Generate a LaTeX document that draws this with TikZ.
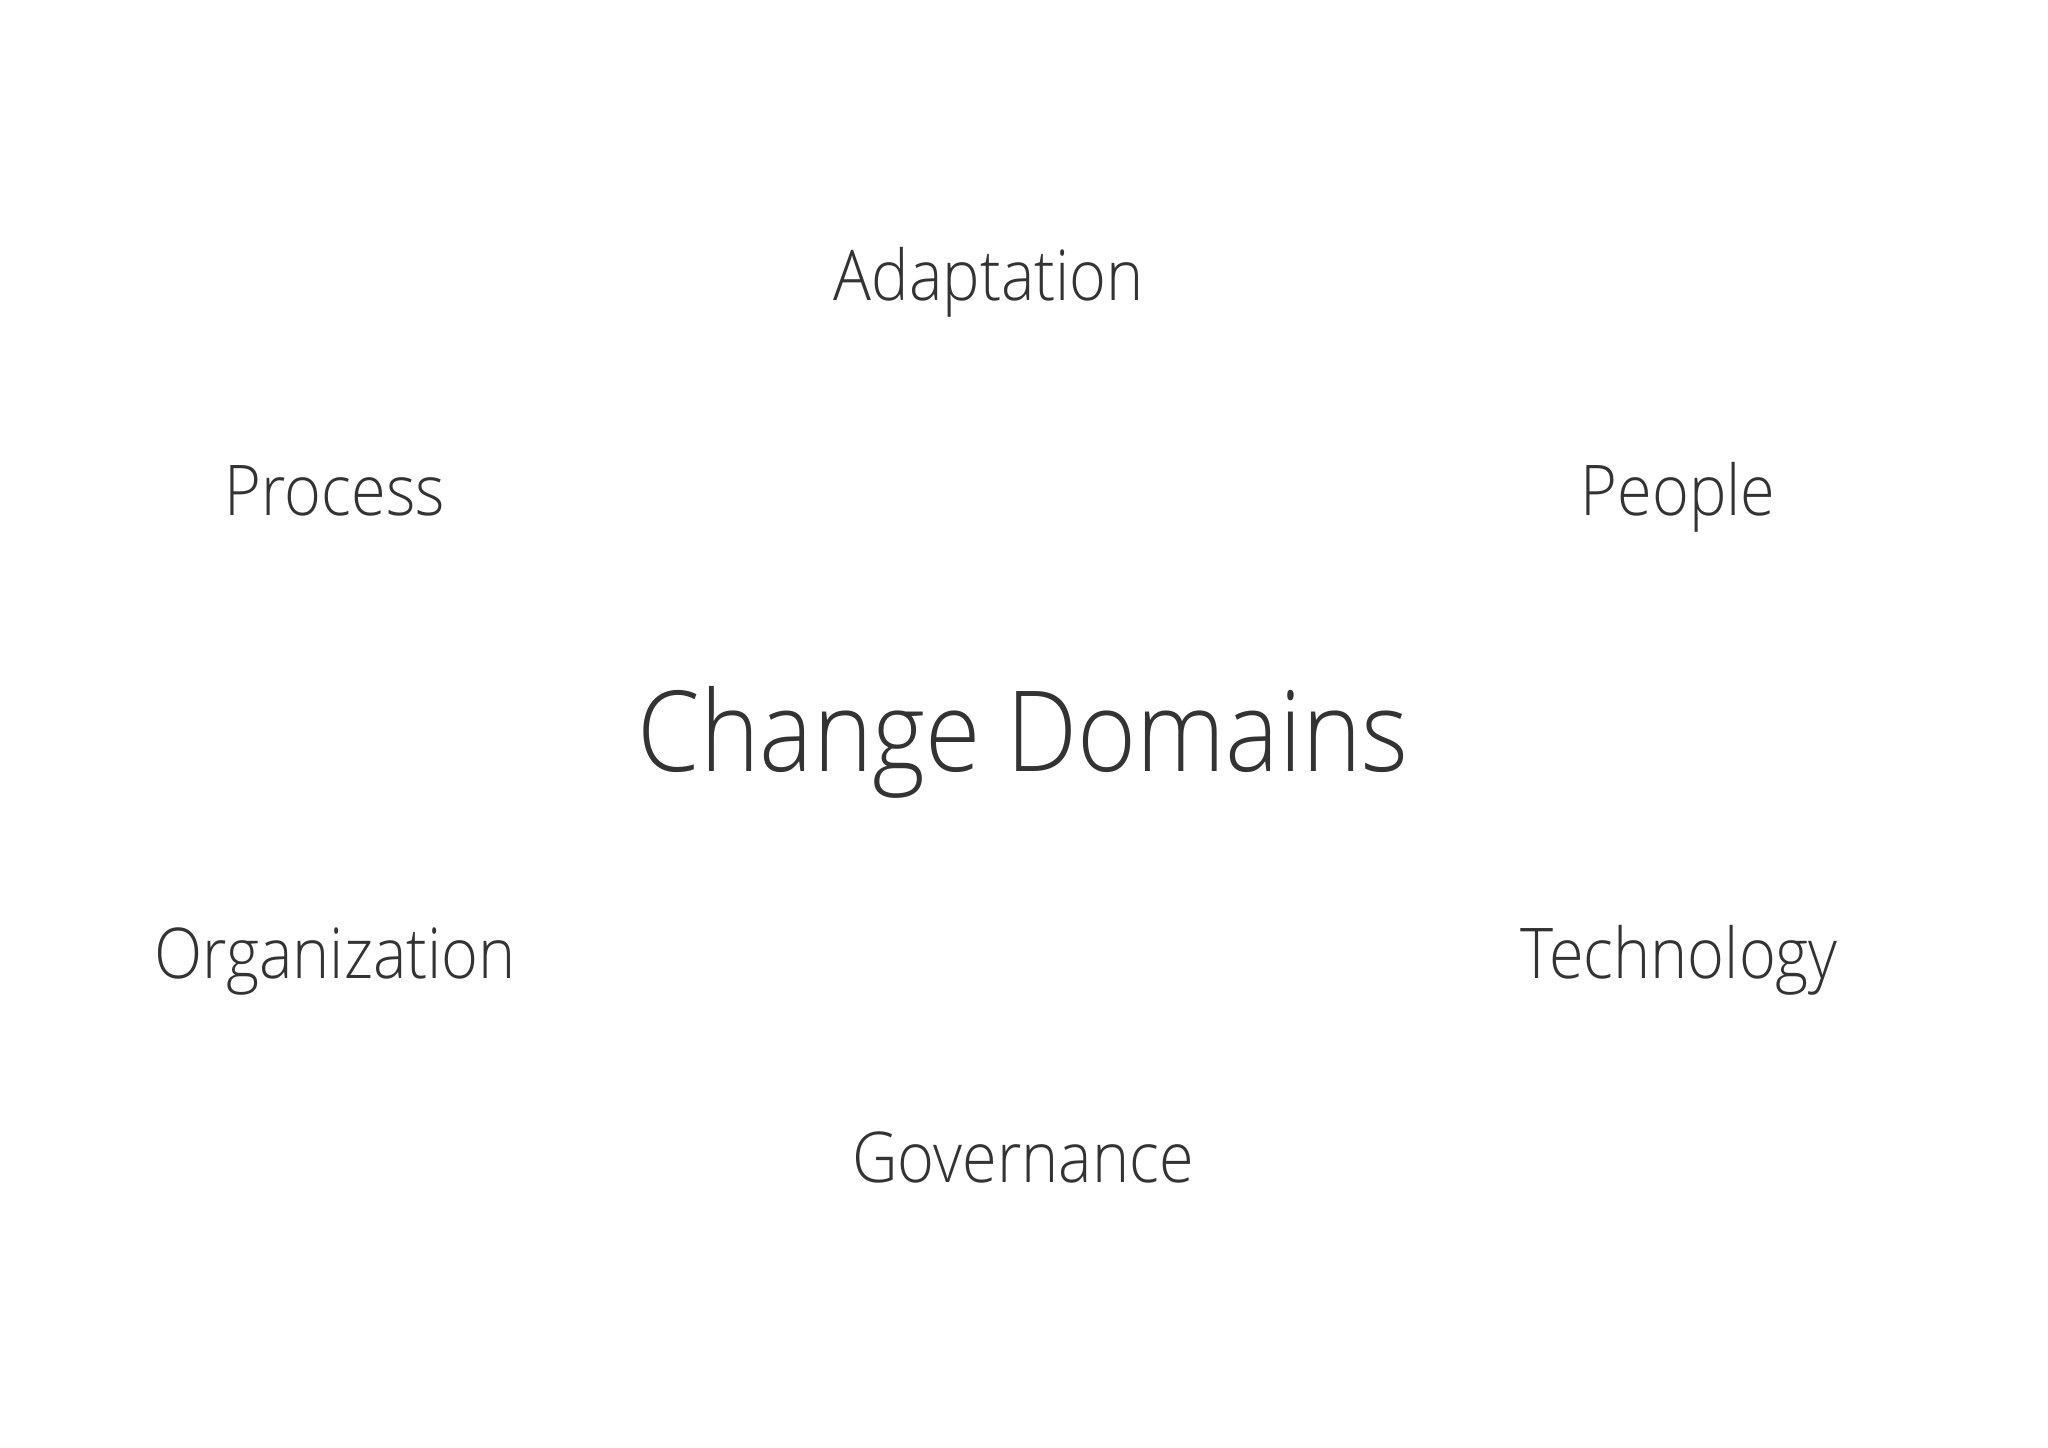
\documentclass[tikz,border=0pt]{standalone}
\usepackage{fontspec}
\IfFontExistsTF{Open Sans Light}{\setmainfont{Open Sans Light}[FakeStretch=0.9]}{%
  \IfFontExistsTF{Lato Light}{\setmainfont{Lato Light}}{\setmainfont{Open Sans}[FakeStretch=0.9]}}
\definecolor{textgray}{HTML}{333333}
\begin{document}
\begin{tikzpicture}[x=0.5pt, y=-0.5pt,
    area/.style = {anchor=base, text=textgray, inner sep=0pt, font=\fontsize{35}{40}\selectfont},
    hub/.style = {anchor=base, text=textgray, inner sep=0pt, font=\fontsize{56}{64}\selectfont}]
	\useasboundingbox[fill=white] (0,0) rectangle (2048,1447);
	\node[hub] (change) at (1023,771) {Change Domains};
	\node[area] (adapt) at (989,300) {Adaptation};
	\node[area] (process) at (335,515) {Process};
	\node[area] (people) at (1678,515) {People};
	\node[area] (org) at (335,978) {Organization};
	\node[area] (tech) at (1679,978) {Technology};
	\node[area] (gov) at (1023,1182) {Governance};
\end{tikzpicture}
\end{document}
